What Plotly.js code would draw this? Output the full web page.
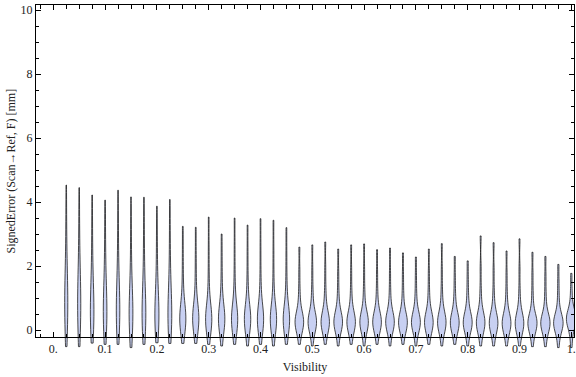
<!DOCTYPE html>
<html>
<head>
<meta charset="utf-8">
<script src="https://cdn.plot.ly/plotly-3.0.1.min.js"></script>
<style>html,body{margin:0;padding:0;background:#fff;}#chart{width:576px;height:377px;}</style>
</head>
<body>
<div id="chart"></div>
<script>
// Visibility bins (x positions of the violins)
var visibility = [0.025,0.05,0.075,0.1,0.125,0.15,0.175,0.2,0.225,0.25,
                  0.275,0.3,0.325,0.35,0.375,0.4,0.425,0.45,0.475,0.5,
                  0.525,0.55,0.575,0.6,0.625,0.65,0.675,0.7,0.725,0.75,
                  0.775,0.8,0.825,0.85,0.875,0.9,0.925,0.95,0.975,1.0];

// Signed error samples per visibility bin [mm]
var errorSamples = [
  [-0.52,-0.15,0.05,0.25,0.45,0.62,0.78,0.92,1.06,1.22,1.4,1.62,1.9,2.3,2.85,3.55,4.53],
  [-0.52,-0.15,0.05,0.24,0.43,0.6,0.76,0.9,1.04,1.2,1.38,1.6,1.88,2.25,2.8,3.5,4.45],
  [-0.41,-0.12,0.04,0.18,0.32,0.45,0.57,0.69,0.82,0.97,1.14,1.36,1.64,2.04,2.62,3.3,4.22],
  [-0.45,-0.12,0.04,0.18,0.31,0.44,0.56,0.68,0.8,0.95,1.12,1.34,1.62,2.02,2.56,3.2,4.06],
  [-0.45,-0.12,0.05,0.2,0.34,0.47,0.6,0.72,0.85,1.0,1.18,1.4,1.68,2.08,2.66,3.4,4.37],
  [-0.55,-0.13,0.03,0.15,0.27,0.38,0.49,0.6,0.72,0.86,1.02,1.24,1.52,1.92,2.5,3.2,4.16],
  [-0.45,-0.12,0.03,0.16,0.28,0.39,0.5,0.61,0.73,0.87,1.03,1.25,1.53,1.96,2.5,3.2,4.15],
  [-0.4,-0.12,0.03,0.15,0.26,0.36,0.46,0.56,0.67,0.8,0.95,1.15,1.42,1.82,2.36,3.0,3.87],
  [-0.42,-0.12,0.03,0.16,0.27,0.38,0.49,0.6,0.71,0.85,1.01,1.22,1.52,1.92,2.46,3.15,4.08],
  [-0.42,-0.1,0.04,0.13,0.21,0.28,0.34,0.4,0.46,0.53,0.62,0.75,0.95,1.3,1.8,2.45,3.24],
  [-0.42,-0.1,0.04,0.13,0.21,0.28,0.34,0.4,0.46,0.53,0.62,0.74,0.93,1.28,1.78,2.4,3.21],
  [-0.45,-0.1,0.03,0.12,0.2,0.26,0.32,0.38,0.44,0.51,0.6,0.72,0.92,1.3,1.85,2.6,3.53],
  [-0.5,-0.1,0.03,0.12,0.2,0.26,0.32,0.38,0.44,0.51,0.6,0.72,0.9,1.22,1.7,2.3,3.0],
  [-0.45,-0.1,0.03,0.12,0.2,0.26,0.32,0.38,0.44,0.51,0.6,0.72,0.92,1.3,1.85,2.6,3.5],
  [-0.5,-0.1,0.03,0.12,0.2,0.26,0.32,0.38,0.43,0.5,0.59,0.71,0.9,1.25,1.75,2.45,3.28],
  [-0.45,-0.1,0.03,0.12,0.2,0.26,0.32,0.38,0.44,0.51,0.6,0.72,0.92,1.3,1.85,2.6,3.48],
  [-0.5,-0.1,0.03,0.12,0.2,0.26,0.32,0.37,0.43,0.5,0.59,0.71,0.91,1.28,1.82,2.55,3.43],
  [-0.45,-0.1,0.02,0.11,0.19,0.25,0.31,0.36,0.42,0.49,0.58,0.7,0.89,1.24,1.72,2.4,3.2],
  [-0.45,-0.12,0.0,0.08,0.14,0.19,0.23,0.27,0.31,0.36,0.42,0.5,0.65,0.92,1.3,1.85,2.59],
  [-0.5,-0.12,0.0,0.08,0.14,0.19,0.23,0.27,0.31,0.36,0.42,0.5,0.66,0.94,1.32,1.9,2.66],
  [-0.45,-0.12,0.0,0.08,0.14,0.19,0.23,0.27,0.31,0.36,0.42,0.51,0.67,0.95,1.35,1.95,2.75],
  [-0.5,-0.12,0.0,0.08,0.14,0.19,0.23,0.27,0.31,0.36,0.42,0.5,0.65,0.9,1.28,1.8,2.53],
  [-0.45,-0.12,0.0,0.08,0.14,0.19,0.23,0.27,0.31,0.36,0.42,0.5,0.66,0.93,1.32,1.88,2.66],
  [-0.5,-0.12,0.0,0.08,0.14,0.19,0.23,0.27,0.31,0.36,0.42,0.5,0.66,0.94,1.33,1.9,2.69],
  [-0.45,-0.12,0.0,0.08,0.14,0.19,0.23,0.27,0.31,0.36,0.42,0.5,0.65,0.9,1.28,1.8,2.51],
  [-0.5,-0.12,0.0,0.08,0.14,0.19,0.23,0.27,0.31,0.36,0.42,0.5,0.65,0.91,1.3,1.82,2.56],
  [-0.45,-0.13,-0.01,0.07,0.13,0.18,0.22,0.26,0.3,0.35,0.41,0.49,0.63,0.88,1.25,1.75,2.41],
  [-0.5,-0.13,-0.01,0.07,0.13,0.18,0.22,0.26,0.3,0.35,0.41,0.49,0.62,0.86,1.2,1.68,2.28],
  [-0.45,-0.13,-0.01,0.07,0.13,0.18,0.22,0.26,0.3,0.35,0.41,0.49,0.64,0.9,1.28,1.8,2.53],
  [-0.5,-0.13,-0.01,0.07,0.13,0.18,0.22,0.26,0.3,0.35,0.41,0.5,0.65,0.92,1.32,1.9,2.7],
  [-0.45,-0.14,-0.02,0.06,0.12,0.17,0.21,0.25,0.29,0.34,0.4,0.48,0.62,0.86,1.2,1.68,2.3],
  [-0.5,-0.14,-0.02,0.06,0.12,0.17,0.21,0.25,0.29,0.34,0.4,0.48,0.61,0.84,1.16,1.6,2.16],
  [-0.5,-0.15,-0.02,0.06,0.12,0.17,0.21,0.25,0.29,0.34,0.4,0.48,0.63,0.9,1.32,1.95,2.94],
  [-0.5,-0.15,-0.03,0.05,0.11,0.16,0.2,0.24,0.28,0.33,0.39,0.47,0.62,0.88,1.28,1.88,2.73],
  [-0.5,-0.16,-0.04,0.04,0.1,0.15,0.19,0.23,0.27,0.32,0.38,0.46,0.6,0.85,1.22,1.75,2.47],
  [-0.5,-0.16,-0.04,0.04,0.1,0.15,0.19,0.23,0.27,0.32,0.38,0.46,0.61,0.88,1.3,1.92,2.85],
  [-0.52,-0.2,-0.06,0.03,0.1,0.15,0.19,0.23,0.27,0.31,0.36,0.43,0.56,0.82,1.22,1.75,2.43],
  [-0.52,-0.2,-0.06,0.03,0.1,0.15,0.19,0.23,0.27,0.31,0.36,0.43,0.55,0.8,1.18,1.68,2.3],
  [-0.55,-0.2,-0.06,0.03,0.1,0.15,0.19,0.23,0.27,0.31,0.36,0.43,0.54,0.76,1.1,1.52,2.05],
  [-0.55,-0.2,-0.02,0.1,0.18,0.24,0.29,0.33,0.37,0.41,0.46,0.52,0.6,0.72,0.95,1.3,1.77]
];

// Axis tick labels
var xTickVals = [0,0.1,0.2,0.3,0.4,0.5,0.6,0.7,0.8,0.9,1.0];
var xTickText = ['0.','0.1','0.2','0.3','0.4','0.5','0.6','0.7','0.8','0.9','1.'];
var yTickVals = [0,2,4,6,8,10];
var yTickText = ['0','2','4','6','8','10'];

var xs = [], ys = [];
for (var i = 0; i < visibility.length; i++) {
  for (var j = 0; j < errorSamples[i].length; j++) {
    xs.push(visibility[i]);
    ys.push(errorSamples[i][j]);
  }
}

var font = {family: 'Liberation Serif, Times New Roman, serif', size: 12, color: '#222'};
var xRange = [-0.0334, 1.0052];

var traces = [
  {
    type: 'violin', x: xs, y: ys,
    xaxis: 'x', yaxis: 'y',
    width: 0.019, spanmode: 'hard', scalemode: 'width',
    points: false, box: {visible: false}, meanline: {visible: false},
    fillcolor: 'rgb(200,208,242)',
    line: {color: 'rgba(30,30,30,0.8)', width: 1},
    hoverinfo: 'skip', showlegend: false
  },
  {type: 'scatter', x: [], y: [], xaxis: 'x2', yaxis: 'y2', showlegend: false, hoverinfo: 'skip'}
];

var layout = {
  width: 576, height: 377,
  margin: {l: 36, r: 2, t: 5, b: 28},
  paper_bgcolor: '#fff', plot_bgcolor: 'rgba(0,0,0,0)',
  showlegend: false,
  violingap: 0, violingroupgap: 0,
  font: font,
  xaxis: {domain: [0, 1], range: xRange, showline: false, showgrid: false, zeroline: false,
          showticklabels: false, ticks: '', anchor: 'y'},
  yaxis: {domain: [0, 1], range: [-0.594, 10.16], showline: false, showgrid: false, zeroline: false,
          showticklabels: false, ticks: '', anchor: 'x'},
  xaxis2: {domain: [0, 1], range: xRange, anchor: 'y2',
           showline: true, linecolor: '#000', linewidth: 1, mirror: 'ticks',
           showgrid: false, zeroline: false,
           ticks: 'inside', ticklen: 5, tickcolor: '#000', tickwidth: 1,
           tickmode: 'array', tickvals: xTickVals, ticktext: xTickText,
           minor: {ticks: 'inside', dtick: 0.025, tick0: 0, ticklen: 3.5, tickcolor: '#000', tickwidth: 1, showgrid: false},
           tickfont: font,
           title: {text: 'Visibility', font: font, standoff: 7}},
  yaxis2: {domain: [0.03385, 1], range: [-0.23, 10.16], anchor: 'x2',
           showline: true, linecolor: '#000', linewidth: 1, mirror: 'ticks',
           showgrid: false, zeroline: false,
           ticks: 'inside', ticklen: 5, tickcolor: '#000', tickwidth: 1,
           tickmode: 'array', tickvals: yTickVals, ticktext: yTickText,
           minor: {ticks: 'inside', dtick: 0.5, tick0: 0, ticklen: 3, tickcolor: '#000', tickwidth: 1, showgrid: false},
           tickfont: font,
           title: {text: 'SignedError (Scan→Ref, F) [mm]', font: font, standoff: 2}}
};

Plotly.newPlot('chart', traces, layout, {staticPlot: true, displayModeBar: false});
</script>
</body>
</html>
